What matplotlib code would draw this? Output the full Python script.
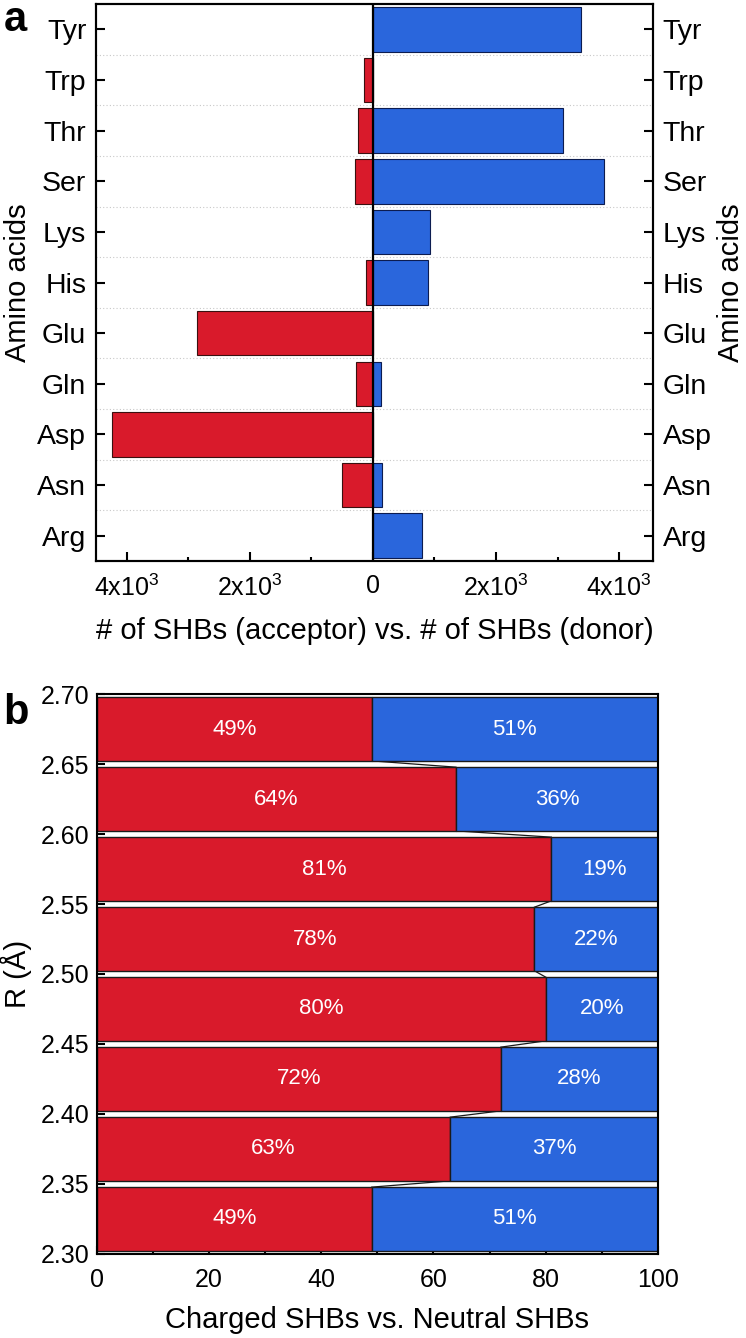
import matplotlib
matplotlib.use("Agg")
import matplotlib.pyplot as plt
import numpy as np

plt.rcParams['font.family'] = ['Liberation Sans', 'DejaVu Sans']
plt.rcParams['mathtext.fontset'] = 'custom'
plt.rcParams['mathtext.rm'] = 'Liberation Sans'

RED = '#d91a2b'
BLUE = '#2a66dc'

# Panel a data
amino_acids = ['Arg', 'Asn', 'Asp', 'Gln', 'Glu', 'His', 'Lys', 'Ser', 'Thr', 'Trp', 'Tyr']
acceptor = [0, 500, 4240, 275, 2860, 115, 0, 290, 240, 150, 0]
donor = [795, 155, 0, 130, 0, 900, 925, 3750, 3090, 0, 3380]
x_ticks_a = [-4000, -2000, 0, 2000, 4000]
x_ticklabels_a = ['4x10$^\\mathregular{3}$', '2x10$^\\mathregular{3}$', '0',
                  '2x10$^\\mathregular{3}$', '4x10$^\\mathregular{3}$']

# Panel b data (R bins from bottom to top, percentage of charged SHBs)
r_edges = [2.30, 2.35, 2.40, 2.45, 2.50, 2.55, 2.60, 2.65, 2.70]
charged = [49, 63, 72, 80, 78, 81, 64, 49]
neutral = [100 - c for c in charged]

fig = plt.figure(figsize=(7.46, 13.38), dpi=100)

# ---------- panel a ----------
ax1 = fig.add_axes([0.1287, 0.5807, 0.7466, 0.4163])
y = np.arange(len(amino_acids))
for yy in y[:-1]:
    ax1.axhline(yy + 0.5, color='#c8c8c8', lw=0.8, ls=(0, (1, 2)), zorder=0)
ax1.barh(y, -np.array(acceptor), height=0.88, color=RED, edgecolor='#3a1010', lw=0.8, zorder=2)
ax1.barh(y, donor, height=0.88, color=BLUE, edgecolor='#0c1c50', lw=0.8, zorder=2)
ax1.axvline(0, color='black', lw=1.6, zorder=3)
ax1.set_xlim(-4500, 4550)
ax1.set_ylim(-0.5, len(amino_acids) - 0.5)
ax1.set_yticks(y)
ax1.set_yticklabels(amino_acids)
ax1.set_xticks(x_ticks_a)
ax1.set_xticklabels(x_ticklabels_a)
ax1.set_xticks([-3000, -1000, 1000, 3000], minor=True)
ax1.tick_params(axis='y', direction='in', labelsize=20.5, width=1.5, length=6.5, pad=7)
ax1.tick_params(axis='x', direction='in', labelsize=18, width=1.5, length=6.5, pad=9.5)
ax1.tick_params(which='minor', direction='in', width=1.5, length=3)
ax1.set_xlabel('# of SHBs (acceptor) vs. # of SHBs (donor)', fontsize=21, labelpad=12)
ax1.set_ylabel('Amino acids', fontsize=21, labelpad=4)
for s in ax1.spines.values():
    s.set_linewidth(1.5)

ax1r = ax1.twinx()
ax1r.set_ylim(ax1.get_ylim())
ax1r.set_yticks(y)
ax1r.set_yticklabels(amino_acids)
ax1r.tick_params(direction='in', labelsize=20.5, width=1.5, length=6.5, pad=7)
ax1r.set_ylabel('Amino acids', fontsize=21, labelpad=4)
for s in ax1r.spines.values():
    s.set_linewidth(1.5)

fig.text(0.005, 0.985, 'a', fontsize=30, fontweight='bold', va='center')

# ---------- panel b ----------
ax2 = fig.add_axes([0.1296, 0.0628, 0.7524, 0.4185])
centers = [(a + b) / 2 for a, b in zip(r_edges[:-1], r_edges[1:])]
step = r_edges[1] - r_edges[0]
h = step * 0.91
ax2.barh(centers, charged, height=h, color=RED, edgecolor='#1a1a1a', lw=1.0, zorder=2)
ax2.barh(centers, neutral, left=charged, height=h, color=BLUE, edgecolor='#1a1a1a', lw=1.0, zorder=2)
for i in range(len(centers) - 1):
    ax2.plot([charged[i], charged[i + 1]], [centers[i] + h / 2, centers[i + 1] - h / 2],
             color='#1a1a1a', lw=0.9, zorder=1)
for c, n, yc in zip(charged, neutral, centers):
    ax2.text(c / 2, yc, f'{c}%', color='white', fontsize=16, ha='center', va='center', zorder=4)
    ax2.text(c + n / 2, yc, f'{n}%', color='white', fontsize=16, ha='center', va='center', zorder=4)
ax2.set_xlim(0, 100)
ax2.set_ylim(r_edges[0], r_edges[-1])
ax2.set_yticks(r_edges)
ax2.set_yticklabels([f'{r:.2f}' for r in r_edges])
ax2.set_xticks([0, 20, 40, 60, 80, 100])
ax2.set_xticks([10, 30, 50, 70, 90], minor=True)
ax2.tick_params(axis='y', direction='in', labelsize=18, width=1.5, length=6, pad=5.5)
ax2.tick_params(axis='x', direction='in', labelsize=18, width=1.5, length=6, pad=10)
ax2.tick_params(which='minor', direction='in', width=1.5, length=3)
ax2.set_xlabel('Charged SHBs vs. Neutral SHBs', fontsize=21, labelpad=10.5)
ax2.set_ylabel('R (Å)', fontsize=21, labelpad=6)
for s in ax2.spines.values():
    s.set_linewidth(1.5)
    s.set_zorder(5)

fig.text(0.005, 0.467, 'b', fontsize=30, fontweight='bold', va='center')

fig.savefig('out.png', dpi=100)
